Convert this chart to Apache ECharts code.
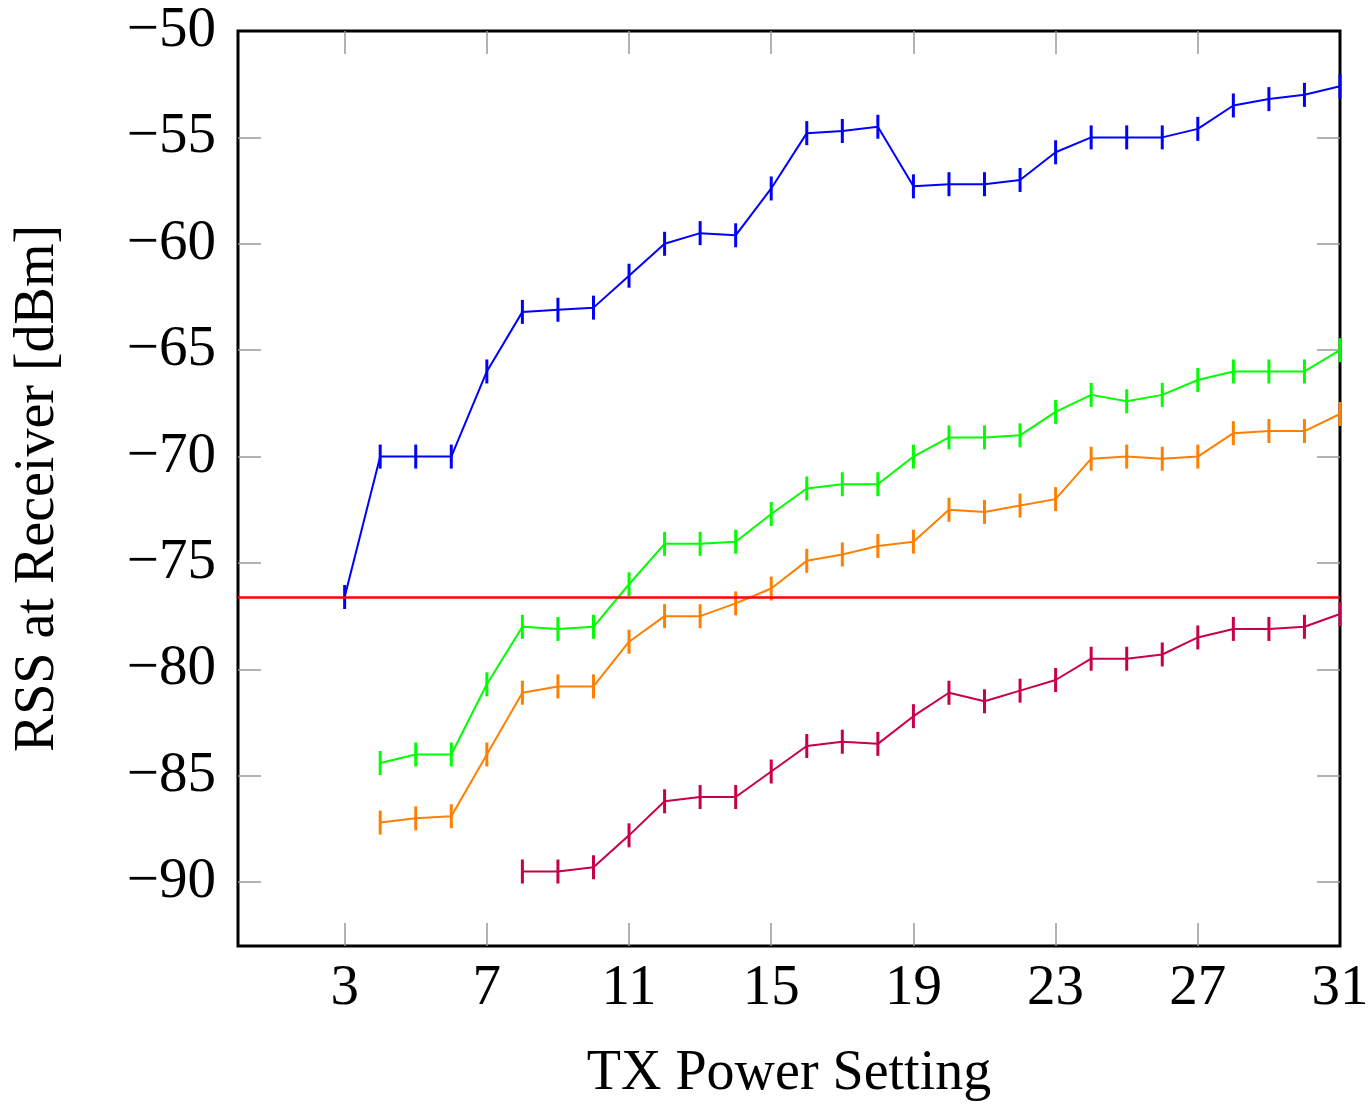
<!DOCTYPE html>
<html>
<head>
<meta charset="utf-8">
<script src="https://cdn.jsdelivr.net/npm/echarts@6/dist/echarts.min.js"></script>
<style>html,body{margin:0;padding:0;background:#fff}#c{width:1369px;height:1104px}</style>
</head>
<body>
<div id="c"></div>
<script>
const xTicks = [3, 7, 11, 15, 19, 23, 27, 31];
const yTicks = [-90, -85, -80, -75, -70, -65, -60, -55, -50];
const threshold = -76.6;

const blueX = [3,4,5,6,7,8,9,10,11,12,13,14,15,16,17,18,19,20,21,22,23,24,25,26,27,28,29,30,31];
const blueY = [-76.6,-70,-70,-70,-66,-63.2,-63.1,-63.0,-61.5,-60.0,-59.5,-59.6,-57.4,-54.8,-54.7,-54.5,-57.3,-57.2,-57.2,-57.0,-55.7,-55.0,-55.0,-55.0,-54.6,-53.5,-53.2,-53.0,-52.6];

const greenX = [4,5,6,7,8,9,10,11,12,13,14,15,16,17,18,19,20,21,22,23,24,25,26,27,28,29,30,31];
const greenY = [-84.4,-84.0,-84.0,-80.7,-78.0,-78.1,-78.0,-76.0,-74.1,-74.1,-74.0,-72.7,-71.5,-71.3,-71.3,-70.0,-69.1,-69.1,-69.0,-67.9,-67.1,-67.4,-67.1,-66.4,-66.0,-66.0,-66.0,-65.0];

const orangeX = [4,5,6,7,8,9,10,11,12,13,14,15,16,17,18,19,20,21,22,23,24,25,26,27,28,29,30,31];
const orangeY = [-87.2,-87.0,-86.9,-84.0,-81.1,-80.8,-80.8,-78.7,-77.5,-77.5,-76.9,-76.2,-74.9,-74.6,-74.2,-74.0,-72.5,-72.6,-72.3,-72.0,-70.1,-70.0,-70.1,-70.0,-68.9,-68.8,-68.8,-68.0];

const crimsonX = [8,9,10,11,12,13,14,15,16,17,18,19,20,21,22,23,24,25,26,27,28,29,30,31];
const crimsonY = [-89.5,-89.5,-89.3,-87.8,-86.2,-86.0,-86.0,-84.8,-83.6,-83.4,-83.5,-82.2,-81.1,-81.5,-81.0,-80.5,-79.5,-79.5,-79.3,-78.5,-78.1,-78.1,-78.0,-77.4];

const FONT = 'Liberation Serif, Times New Roman, serif';
const X_MIN = 0, X_MAX = 31, Y_MIN = -93, Y_MAX = -50;
const zip = (xs, ys) => xs.map((x, i) => [x, ys[i]]);
const fmt = v => (v < 0 ? '\u2212' + Math.abs(v) : String(v));
// tick marks on the frame edges would be hidden under the frame; skip them
const xTickMarks = xTicks.filter(v => v > X_MIN && v < X_MAX);
const yTickMarks = yTicks.filter(v => v > Y_MIN && v < Y_MAX);

function mkSeries(name, xs, ys, color) {
  return {
    name, type: 'line', data: zip(xs, ys),
    xAxisIndex: 0, yAxisIndex: 0,
    lineStyle: { color, width: 2 },
    itemStyle: { color },
    symbol: 'rect', symbolSize: [3, 24],
    showAllSymbol: true, animation: false, clip: false, z: 3
  };
}

const chart = echarts.init(document.getElementById('c'), null, { renderer: 'canvas' });
const tickStyle = { show: true, inside: true, length: 23, lineStyle: { color: '#999', width: 1.5 } };
const noLine = { show: false, onZero: false };

chart.setOption({
  backgroundColor: '#fff',
  animation: false,
  grid: {
    left: 238, right: 29, top: 31, bottom: 158, containLabel: false, outerBoundsMode: 'none',
    show: true, borderColor: '#000', borderWidth: 3, backgroundColor: 'transparent'
  },
  xAxis: [
    {
      type: 'value', min: X_MIN, max: X_MAX, position: 'bottom',
      name: 'TX Power Setting', nameLocation: 'middle', nameGap: 100,
      nameTextStyle: { fontFamily: FONT, fontSize: 56, color: '#000' },
      axisLine: noLine,
      axisTick: Object.assign({ customValues: xTickMarks }, tickStyle),
      axisLabel: { customValues: xTicks, margin: 15, fontFamily: FONT, fontSize: 57, color: '#000', formatter: fmt },
      splitLine: { show: false }
    },
    {
      type: 'value', min: X_MIN, max: X_MAX, position: 'top',
      axisLine: noLine,
      axisTick: Object.assign({ customValues: xTickMarks }, tickStyle),
      axisLabel: { show: false },
      splitLine: { show: false }
    }
  ],
  yAxis: [
    {
      type: 'value', min: Y_MIN, max: Y_MAX, position: 'left',
      name: 'RSS at Receiver [dBm]', nameLocation: 'middle', nameGap: 172, nameRotate: 90,
      nameTextStyle: { fontFamily: FONT, fontSize: 56, color: '#000' },
      axisLine: noLine,
      axisTick: Object.assign({ customValues: yTickMarks }, tickStyle),
      axisLabel: { customValues: yTicks, margin: 22, padding: [7, 0, 0, 0], fontFamily: FONT, fontSize: 57, color: '#000', formatter: fmt },
      splitLine: { show: false }
    },
    {
      type: 'value', min: Y_MIN, max: Y_MAX, position: 'right',
      axisLine: noLine,
      axisTick: Object.assign({ customValues: yTickMarks }, tickStyle),
      axisLabel: { show: false },
      splitLine: { show: false }
    }
  ],
  series: [
    mkSeries('blue', blueX, blueY, '#0000ff'),
    mkSeries('green', greenX, greenY, '#00ff00'),
    mkSeries('orange', orangeX, orangeY, '#ff8000'),
    mkSeries('crimson', crimsonX, crimsonY, '#c8004a'),
    {
      name: 'threshold', type: 'line', data: [], xAxisIndex: 0, yAxisIndex: 0,
      markLine: {
        silent: true, symbol: 'none', label: { show: false },
        lineStyle: { color: '#ff0000', width: 2.5, type: 'solid' },
        data: [{ yAxis: threshold }]
      }
    }
  ]
});
</script>
</body>
</html>
